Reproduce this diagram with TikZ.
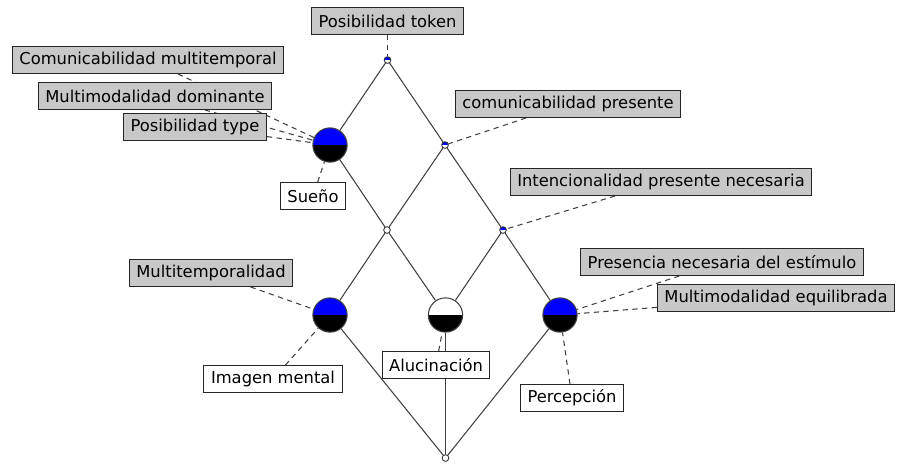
\documentclass[tikz,border=0pt]{standalone}
\usepackage{fontspec}
\setmainfont{DejaVu Sans}
\usepackage{tikz}
\usetikzlibrary{graphs}
\usetikzlibrary{backgrounds,positioning}
\definecolor{lblgray}{RGB}{200,200,200}
\definecolor{edgegray}{RGB}{64,64,64}
\tikzstyle{concept}=[circle, draw=black!75, line width=0.6pt, minimum size=19.5pt, inner sep=0pt]
\tikzstyle{dot}=[circle, draw=black!80, line width=0.5pt, minimum size=3.8pt, inner sep=0pt, fill=white]
\tikzstyle{attr}=[draw=black!85, fill=lblgray, line width=0.6pt, font=\fontsize{9.3}{11}\selectfont, inner xsep=4pt, inner ysep=2pt, minimum height=15.3pt]
\tikzstyle{obj}=[attr, fill=white]
\tikzset{
    halves/.style 2 args={
         path picture={
           \fill[#1] (path picture bounding box.west) rectangle (path picture bounding box.north east);
           \fill[#2] (path picture bounding box.west) rectangle (path picture bounding box.south east);
         }
    },
    labelline/.style={dashed, dash pattern=on 3pt off 2.5pt, edgegray, line width=0.6pt},
    latticeline/.style={edgegray, line width=0.6pt}
}
\begin{document}
\begin{tikzpicture}[x=0.02cm, y=-0.02cm, new set=lattice nodes]
 \useasboundingbox (0,0) rectangle (898,464);
 \begin{scope}[nodes={set=lattice nodes}]
      % concepts
      \node (top)[dot, halves={blue}{white}] at (387.5,60) {};
      \node (sueno)[concept, halves={blue}{black}] at (330,145) {};
      \node (compres)[dot, halves={blue}{white}] at (445,145) {};
      \node (mid)[dot] at (387,230) {};
      \node (intenc)[dot, halves={blue}{white}] at (503,230) {};
      \node (imagen)[concept, halves={blue}{black}] at (330,315) {};
      \node (aluc)[concept, halves={white}{black}] at (445.5,315) {};
      \node (percep)[concept, halves={blue}{black}] at (560,315) {};
      \node (bottom)[dot] at (445.5,458) {};

      % attributes
      \node (a_token)[attr] at (387.5,21) {Posibilidad token};
      \node (a_cmt)[attr] at (148,60) {Comunicabilidad multitemporal};
      \node (a_mmd)[attr] at (155,96) {Multimodalidad dominante};
      \node (a_type)[attr] at (195,127) {Posibilidad type};
      \node (a_cpres)[attr] at (568,104) {comunicabilidad presente};
      \node (a_intenc)[attr] at (661,182) {Intencionalidad presente necesaria};
      \node (a_mtemp)[attr] at (211,273) {Multitemporalidad};
      \node (a_pres)[attr] at (722,262) {Presencia necesaria del estímulo};
      \node (a_mmeq)[attr] at (776,298) {Multimodalidad equilibrada};

      % objects
      \node (o_sueno)[obj] at (313,196) {Sueño};
      \node (o_imagen)[obj] at (273,379) {Imagen mental};
      \node (o_aluc)[obj] at (436,365) {Alucinación};
      \node (o_percep)[obj] at (572,398) {Percepción};
 \end{scope}

 \begin{pgfonlayer}{background}
 \graph {
    (lattice nodes);

    % lattice
    top --[latticeline] {sueno, compres},
    sueno --[latticeline] mid,
    compres --[latticeline] {mid, intenc},
    mid --[latticeline] {imagen, aluc},
    intenc --[latticeline] {aluc, percep},
    {imagen, aluc, percep} --[latticeline] bottom,

    % labels
    a_token --[labelline] top,
    {a_cmt, a_mmd, a_type, o_sueno} --[labelline] sueno,
    a_cpres --[labelline] compres,
    a_intenc --[labelline] intenc,
    {a_mtemp, o_imagen} --[labelline] imagen,
    o_aluc --[labelline] aluc,
    {a_pres, a_mmeq, o_percep} --[labelline] percep,
    };
 \end{pgfonlayer}
\end{tikzpicture}
\end{document}
